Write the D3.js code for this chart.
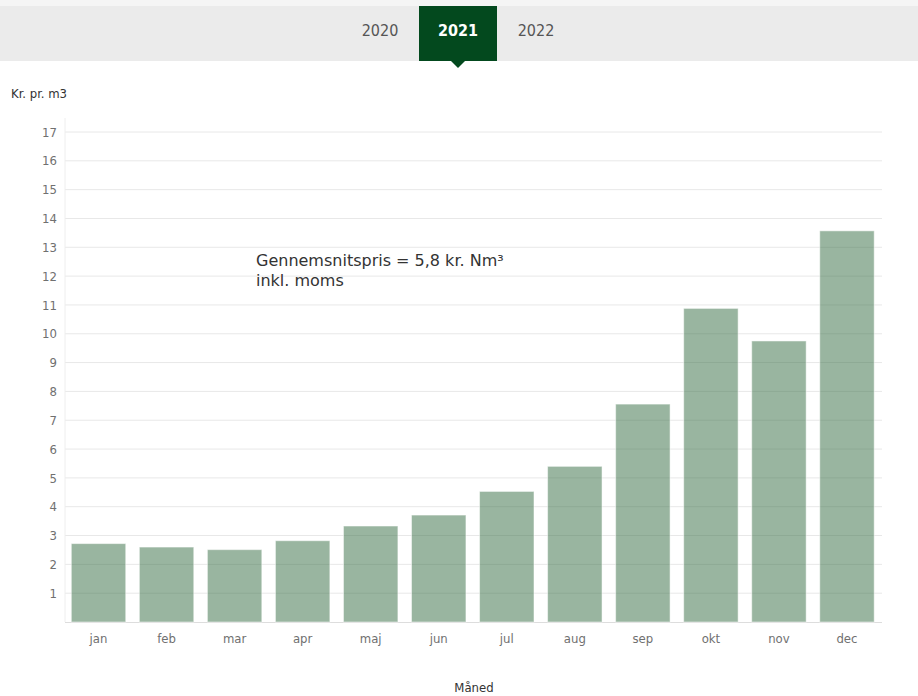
<!DOCTYPE html>
<html>
<head>
<meta charset="utf-8">
<script src="https://cdn.jsdelivr.net/npm/d3@7"></script>
<style>
  html, body { margin: 0; padding: 0; background: #fff; }
  svg { display: block; }
  .cond { font-family: "DejaVu Sans", sans-serif; font-stretch: condensed; }
</style>
</head>
<body>
<svg id="chart" width="918" height="696"></svg>
<script>
// Monthly gas price 2021, kr. per m3
const months = ["jan", "feb", "mar", "apr", "maj", "jun", "jul", "aug", "sep", "okt", "nov", "dec"];
const prices = [2.72, 2.60, 2.51, 2.82, 3.33, 3.71, 4.53, 5.40, 7.56, 10.88, 9.75, 13.57];
const yTicks = [1, 2, 3, 4, 5, 6, 7, 8, 9, 10, 11, 12, 13, 14, 15, 16, 17];
const years = ["2020", "2021", "2022"];
const selectedYear = "2021";
const noteLines = ["Gennemsnitspris = 5,8 kr. Nm³", "inkl. moms"];

const svg = d3.select("#chart");
const W = 918;

// Year tab strip
svg.append("rect").attr("x", 0).attr("y", 0).attr("width", W).attr("height", 6).attr("fill", "#f5f5f5");
svg.append("rect").attr("x", 0).attr("y", 6).attr("width", W).attr("height", 55).attr("fill", "#ebebeb");

const tabX = d3.scaleBand().domain(years).range([341, 575]);
const tabs = svg.append("g");
years.forEach(yr => {
  const x0 = tabX(yr), bw = tabX.bandwidth();
  const sel = yr === selectedYear;
  if (sel) {
    tabs.append("rect").attr("x", x0).attr("y", 6).attr("width", bw).attr("height", 55).attr("fill", "#03491e");
    const cx = x0 + bw / 2;
    tabs.append("path").attr("d", `M${cx - 7},61 L${cx + 7},61 L${cx},68 Z`).attr("fill", "#03491e");
  }
  tabs.append("text").attr("class", "cond")
    .attr("x", x0 + bw / 2).attr("y", 36)
    .attr("text-anchor", "middle")
    .attr("font-size", 16)
    .attr("font-weight", sel ? "bold" : "normal")
    .attr("fill", sel ? "#ffffff" : "#555555")
    .text(yr);
});

// Plot area
const margin = { left: 65, right: 36, top: 118, bottom: 74 };
const x = d3.scaleBand().domain(months).range([margin.left - 0.5, W - margin.right - 1]).paddingInner(0.2).paddingOuter(0.1);
const y = d3.scaleLinear().domain([0, 17]).range([622, 132]);

// Gridlines
svg.append("g").selectAll("line").data(yTicks).join("line")
  .attr("x1", margin.left).attr("x2", W - margin.right)
  .attr("y1", d => y(d)).attr("y2", d => y(d))
  .attr("stroke", "#e8e8e8").attr("stroke-width", 1);

// Axis lines
svg.append("line").attr("x1", margin.left).attr("x2", margin.left).attr("y1", margin.top).attr("y2", y(0))
  .attr("stroke", "#eeeeee");
svg.append("line").attr("x1", margin.left).attr("x2", W - margin.right).attr("y1", y(0) + 0.5).attr("y2", y(0) + 0.5)
  .attr("stroke", "#dddddd");

// Y axis
const yAxis = svg.append("g").attr("transform", `translate(${margin.left},0)`)
  .call(d3.axisLeft(y).tickValues(yTicks).tickSize(0).tickPadding(8));
yAxis.select(".domain").remove();
yAxis.selectAll("text").attr("class", "cond").attr("font-size", 13).attr("fill", "#707070");

// X axis
const xAxis = svg.append("g").attr("transform", `translate(0,${y(0)})`)
  .call(d3.axisBottom(x).tickSize(0).tickPadding(12));
xAxis.select(".domain").remove();
xAxis.selectAll("text").attr("class", "cond").attr("font-size", 13).attr("fill", "#707070");

// Bars
svg.append("g").selectAll("rect").data(prices).join("rect")
  .attr("x", (d, i) => x(months[i]))
  .attr("width", x.bandwidth())
  .attr("y", d => y(d))
  .attr("height", d => y(0) - y(d))
  .attr("fill", "rgb(52,107,66)")
  .attr("fill-opacity", 0.5)
  .attr("stroke", "#ffffff").attr("stroke-opacity", 0.5).attr("stroke-width", 1);

// Titles
svg.append("text").attr("class", "cond").attr("x", 11).attr("y", 98)
  .attr("font-size", 13).attr("fill", "#333333").text("Kr. pr. m3");
svg.append("text").attr("class", "cond").attr("x", 474).attr("y", 692)
  .attr("text-anchor", "middle").attr("font-size", 13).attr("fill", "#333333").text("Måned");

// Average note
const note = svg.append("text").attr("x", 256).attr("y", 266)
  .attr("font-family", "'DejaVu Sans', Verdana, sans-serif").attr("font-size", 16).attr("fill", "#333333");
noteLines.forEach((t, i) => note.append("tspan").attr("x", 256).attr("dy", i === 0 ? 0 : 20).text(t));
</script>
</body>
</html>
